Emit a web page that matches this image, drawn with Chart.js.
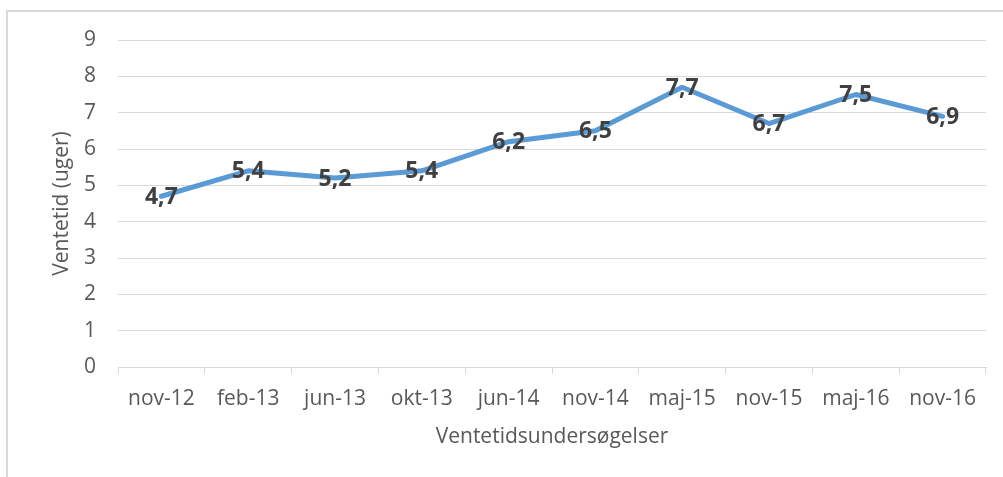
<!DOCTYPE html>
<html>
<head>
<meta charset="utf-8">
<script src="https://cdn.jsdelivr.net/npm/chart.js@4"></script>
<style>
  html, body { margin: 0; padding: 0; background: #fff; }
  #wrap { width: 1003px; height: 477px; }
</style>
</head>
<body>
<div id="wrap"><canvas id="ventetidChart" width="1003" height="477"></canvas></div>
<script>
// --- data ---
const categories = ['nov-12', 'feb-13', 'jun-13', 'okt-13', 'jun-14', 'nov-14', 'maj-15', 'nov-15', 'maj-16', 'nov-16'];
const ventetid = [4.7, 5.4, 5.2, 5.4, 6.2, 6.5, 7.7, 6.7, 7.5, 6.9];
const yTicks = [0, 1, 2, 3, 4, 5, 6, 7, 8, 9];

const FONT = "'Open Sans', 'Noto Sans', sans-serif";
const GREY_TEXT = '#595959';
const GRID = '#d9d9d9';

// frame round the chart + white background
const framePlugin = {
    id: 'frame',
    beforeDraw(chart) {
        const c = chart.ctx;
        c.save();
        c.fillStyle = '#fff';
        c.fillRect(0, 0, chart.width, chart.height);
        c.strokeStyle = GRID;
        c.lineWidth = 2;
        c.beginPath();
        c.moveTo(7, chart.height);
        c.lineTo(7, 11);
        c.lineTo(chart.width, 11);
        c.stroke();
        c.restore();
    }
};

// value labels centred on each point (danish decimal comma)
const valueLabels = {
    id: 'valueLabels',
    afterDatasetsDraw(chart) {
        const c = chart.ctx;
        const meta = chart.getDatasetMeta(0);
        c.save();
        c.font = "bold 23px " + FONT;
        c.fillStyle = '#404040';
        c.textAlign = 'center';
        c.textBaseline = 'middle';
        meta.data.forEach((pt, i) => {
            const txt = ventetid[i].toFixed(1).replace('.', ',');
            c.fillText(txt, pt.x, pt.y + 1);
        });
        c.restore();
    }
};

new Chart(document.getElementById('ventetidChart'), {
    type: 'line',
    data: {
        labels: categories,
        datasets: [{
            data: ventetid,
            borderColor: '#5b9bd5',
            borderWidth: 5,
            borderJoinStyle: 'round',
            borderCapStyle: 'round',
            pointRadius: 0,
            tension: 0,
            fill: false
        }]
    },
    options: {
        responsive: false,
        animation: false,
        layout: { padding: { left: 49, right: 17, top: 40, bottom: 27 } },
        plugins: {
            legend: { display: false },
            tooltip: { enabled: false }
        },
        scales: {
            x: {
                offset: true,
                afterFit(s) { s.height = 83; },
                grid: {
                    offset: true,
                    drawOnChartArea: false,
                    drawTicks: true,
                    tickLength: 7,
                    color: GRID
                },
                border: { display: true, color: GRID, width: 1 },
                ticks: {
                    color: GREY_TEXT,
                    font: { family: FONT, size: 21 },
                    padding: 12,
                    maxRotation: 0,
                    autoSkip: false
                },
                title: {
                    display: true,
                    text: 'Ventetidsundersøgelser',
                    color: GREY_TEXT,
                    font: { family: FONT, size: 21 },
                    padding: 0
                }
            },
            y: {
                min: 0,
                max: 9,
                afterFit(s) { s.width = 69; },
                afterBuildTicks(s) { s.ticks = yTicks.map(v => ({ value: v })); },
                grid: { color: GRID, lineWidth: 1, drawTicks: false },
                border: { display: false },
                ticks: {
                    color: GREY_TEXT,
                    font: { family: FONT, size: 21 },
                    padding: 22
                },
                title: {
                    display: true,
                    text: 'Ventetid (uger)',
                    color: GREY_TEXT,
                    font: { family: FONT, size: 21 },
                    padding: 0
                }
            }
        }
    },
    plugins: [framePlugin, valueLabels]
});
</script>
</body>
</html>
